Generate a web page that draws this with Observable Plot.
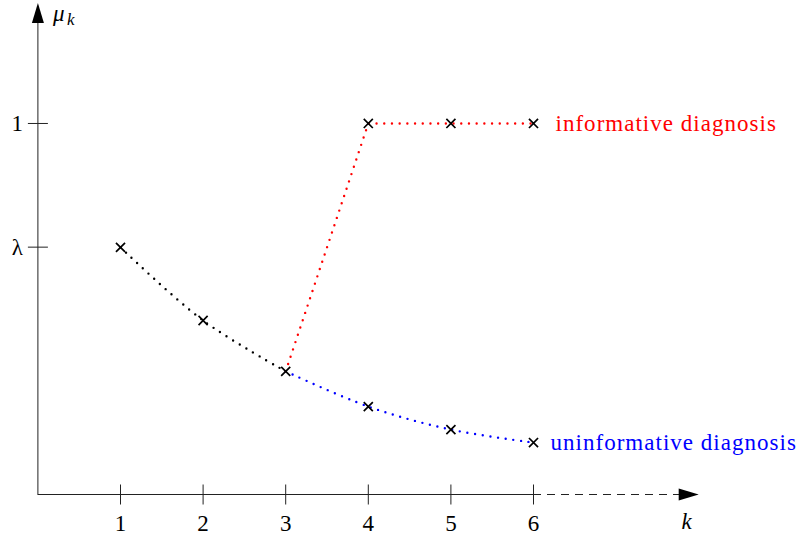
<!DOCTYPE html>
<html>
<head>
<meta charset="utf-8">
<script src="https://cdn.jsdelivr.net/npm/d3@7"></script>
<script src="https://cdn.jsdelivr.net/npm/@observablehq/plot@0.6"></script>
<style>
html,body{margin:0;padding:0;background:#fff;}
svg text{font-family:"Liberation Serif",serif;}
</style>
</head>
<body>
<div id="chart"></div>
<script>
const ks = [1, 2, 3, 4, 5, 6];
const lambda = 2 / 3;
const common = [
  {k: 1, mu: 0.666},
  {k: 2, mu: 0.469},
  {k: 3, mu: 0.332}
];
const uninformative = [
  {k: 3, mu: 0.332},
  {k: 4, mu: 0.237},
  {k: 5, mu: 0.175},
  {k: 6, mu: 0.140}
];
const informative = [
  {k: 3, mu: 0.332},
  {k: 4, mu: 1},
  {k: 5, mu: 1},
  {k: 6, mu: 1}
];
const markers = [
  {k: 1, mu: 0.666}, {k: 2, mu: 0.469}, {k: 3, mu: 0.332},
  {k: 4, mu: 0.237}, {k: 5, mu: 0.175}, {k: 6, mu: 0.140},
  {k: 4, mu: 1}, {k: 5, mu: 1}, {k: 6, mu: 1}
];
const yTicks = [{v: 1, label: "1"}, {v: lambda, label: "λ"}];
const infoLabel = [{k: 6, mu: 1, label: "informative diagnosis"}];
const uninfoLabel = [{k: 6, mu: 0.140, label: "uninformative diagnosis"}];
const xMax = 8;
const yMax = 1.325;

const arrowUp = {draw(ctx) { ctx.moveTo(0, 0); ctx.lineTo(-6, 20); ctx.lineTo(6, 20); ctx.closePath(); }};
const arrowRight = {draw(ctx) { ctx.moveTo(0, 0); ctx.lineTo(-20, -6); ctx.lineTo(-20, 6); ctx.closePath(); }};
const vTick = {draw(ctx) { ctx.moveTo(0, -10); ctx.lineTo(0, 10); }};
const hTick = {draw(ctx) { ctx.moveTo(-10, 0); ctx.lineTo(10, 0); }};

const serif = "Liberation Serif";
const dotted = {strokeWidth: 2.4, strokeDasharray: "0,7.7", strokeLinecap: "round"};

const chart = Plot.plot({
  width: 799,
  height: 541,
  marginLeft: 37.4,
  marginRight: 100.8,
  marginTop: 2.4,
  marginBottom: 47,
  x: {domain: [0, xMax], axis: null},
  y: {domain: [0, yMax], axis: null},
  style: {background: "#fff"},
  marks: [
    // axes
    Plot.ruleX([0], {y1: 0, y2: yMax - 0.02, stroke: "#222", strokeWidth: 1}),
    Plot.ruleY([0], {x1: 0, x2: 6, stroke: "#222", strokeWidth: 1}),
    Plot.ruleY([0], {x1: 6, x2: xMax - 0.2, stroke: "#222", strokeWidth: 1, strokeDasharray: "8,6"}),
    Plot.dot([{x: 0, y: yMax}], {x: "x", y: "y", symbol: arrowUp, fill: "#000", stroke: "none", r: 5}),
    Plot.dot([{x: xMax, y: 0}], {x: "x", y: "y", symbol: arrowRight, fill: "#000", stroke: "none", r: 5}),
    // ticks
    Plot.dot(ks, {x: d => d, y: 0, symbol: vTick, stroke: "#222", strokeWidth: 1, fill: "none", r: 5}),
    Plot.dot(yTicks, {x: 0, y: "v", symbol: hTick, stroke: "#222", strokeWidth: 1, fill: "none", r: 5}),
    Plot.text(ks, {x: d => d, y: 0, text: d => String(d), dy: 29, fontSize: 23, fontFamily: serif, fill: "#000"}),
    Plot.text(yTicks, {x: 0, y: "v", text: "label", dx: -15, textAnchor: "end", fontSize: 23, fontFamily: serif, fill: "#000"}),
    // axis labels
    Plot.text([{x: 0, y: yMax}], {x: "x", y: "y", text: () => "μ", dx: 15, dy: 11, textAnchor: "start", fontSize: 23, fontFamily: serif, fontStyle: "italic", fill: "#000"}),
    Plot.text([{x: 0, y: yMax}], {x: "x", y: "y", text: () => "k", dx: 29, dy: 17, textAnchor: "start", fontSize: 17, fontFamily: serif, fontStyle: "italic", fill: "#000"}),
    Plot.text([{x: xMax, y: 0}], {x: "x", y: "y", text: () => "k", dx: -12, dy: 27, fontSize: 23, fontFamily: serif, fontStyle: "italic", fill: "#000"}),
    // curves
    Plot.line(common, {x: "k", y: "mu", curve: "catmull-rom", stroke: "#000", ...dotted}),
    Plot.line(uninformative, {x: "k", y: "mu", curve: "catmull-rom", stroke: "#0000ff", ...dotted}),
    Plot.line(informative, {x: "k", y: "mu", curve: "linear", stroke: "#ff0000", ...dotted}),
    // markers
    Plot.dot(markers, {x: "k", y: "mu", symbol: "times", r: 4.2, stroke: "#000", strokeWidth: 1.7}),
    // series labels
    Plot.text(infoLabel, {x: "k", y: "mu", text: "label", dx: 22, textAnchor: "start", fontSize: 23, fontFamily: serif, fill: "#ff0000"}),
    Plot.text(uninfoLabel, {x: "k", y: "mu", text: "label", dx: 17, textAnchor: "start", fontSize: 23, fontFamily: serif, fill: "#0000ff"})
  ]
});
d3.select(chart).selectAll('g[fill="#ff0000"] text, g[fill="#0000ff"] text').style("letter-spacing", "1.02px");
document.getElementById("chart").appendChild(chart);
</script>
</body>
</html>
